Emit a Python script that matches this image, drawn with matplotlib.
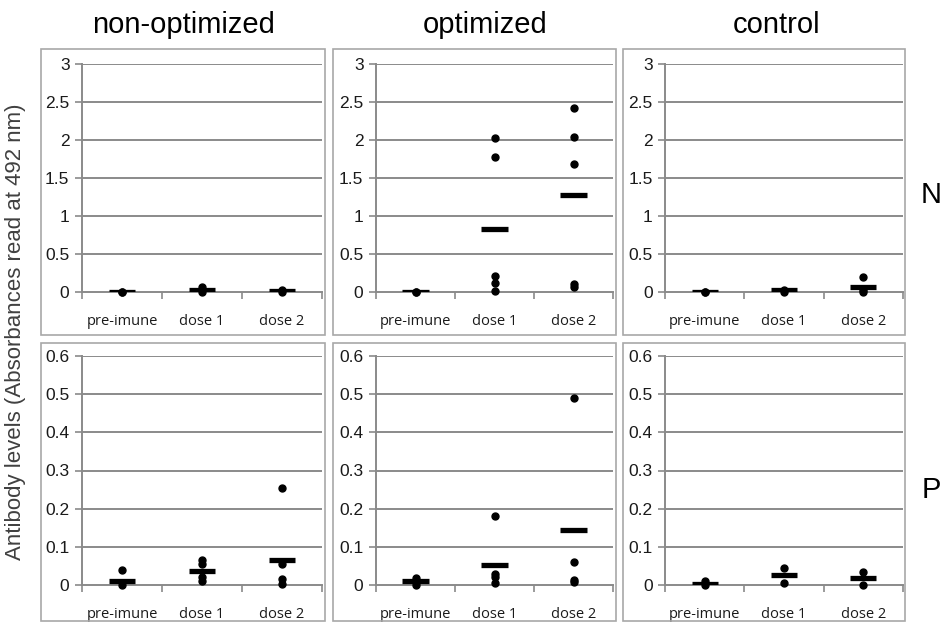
import matplotlib
matplotlib.use('Agg')
import matplotlib.pyplot as plt
from matplotlib.patches import Rectangle

# groups along the x axis and the panels
doses = ['pre-imune', 'dose 1', 'dose 2']
columns = ['non-optimized', 'optimized', 'control']
rows = ['N', 'P']

# individual animals (dots) and group means (bars)
n_points = {
    'non-optimized': [[0.0, 0.0], [0.07, 0.0], [0.02, 0.0]],
    'optimized': [[0.0, 0.0], [2.02, 1.77, 0.21, 0.12, 0.01], [2.42, 2.04, 1.69, 0.1, 0.07]],
    'control': [[0.0, 0.0], [0.03, 0.0], [0.2, 0.03, 0.0]],
}
n_means = {
    'non-optimized': [0.0, 0.03, 0.01],
    'optimized': [0.0, 0.83, 1.27],
    'control': [0.0, 0.02, 0.07],
}
p_points = {
    'non-optimized': [[0.04, 0.0], [0.065, 0.055, 0.02, 0.01], [0.255, 0.055, 0.015, 0.003]],
    'optimized': [[0.018, 0.008, 0.0], [0.18, 0.028, 0.02, 0.005], [0.49, 0.06, 0.012, 0.009]],
    'control': [[0.01, 0.0], [0.045, 0.005], [0.035, 0.0]],
}
p_means = {
    'non-optimized': [0.01, 0.037, 0.065],
    'optimized': [0.01, 0.053, 0.145],
    'control': [0.003, 0.025, 0.018],
}

W, H = 942, 626
fig = plt.figure(figsize=(W / 100, H / 100), dpi=100)

def fx(px):
    return px / W

def fy(py):
    return 1 - py / H

grid_col = '#8a8a8a'
box_col = '#a8a8a8'

# pixel layout: (axes left, axes right) per column, (top, bottom) per row
col_x = [(82, 322), (376, 613), (665, 903)]
box_x = [(41, 325), (333, 616), (623, 905)]
row_y = [(64, 292), (356, 585)]
box_y = [(49, 335), (343, 621)]
ylims = [3, 0.6]
yticks = [[0, 0.5, 1, 1.5, 2, 2.5, 3], [0, 0.1, 0.2, 0.3, 0.4, 0.5, 0.6]]
yticklabels = [['0', '0.5', '1', '1.5', '2', '2.5', '3'],
               ['0', '0.1', '0.2', '0.3', '0.4', '0.5', '0.6']]

for r, (points, means) in enumerate([(n_points, n_means), (p_points, p_means)]):
    for c, col in enumerate(columns):
        bx0, bx1 = box_x[c]
        by0, by1 = box_y[r]
        fig.patches.append(Rectangle((fx(bx0), fy(by1)), fx(bx1 - bx0), (by1 - by0) / H,
                                     transform=fig.transFigure, fill=False,
                                     edgecolor=box_col, lw=1.2))
        x0, x1 = col_x[c]
        y0, y1 = row_y[r]
        ax = fig.add_axes([fx(x0), fy(y1), fx(x1 - x0), (y1 - y0) / H])
        ax.set_xlim(-0.5, 2.5)
        ax.set_ylim(0, ylims[r])
        for i in range(3):
            ax.hlines(means[col][i], i - 0.165, i + 0.165, color='black', lw=3.8, zorder=3)
            ax.plot([i] * len(points[col][i]), points[col][i], 'o', color='black',
                    markersize=5, zorder=4, clip_on=False)
        for t in yticks[r][1:]:
            ax.axhline(t, color=grid_col, lw=1.4, zorder=1)
        ax.set_yticks(yticks[r])
        ax.set_yticklabels(yticklabels[r], fontsize=12.5, family='Liberation Sans', color='#1a1a1a')
        ax.set_xticks([-0.5, 0.5, 1.5, 2.5])
        ax.set_xticklabels([])
        ax.set_xticks([0, 1, 2], minor=True)
        ax.set_xticklabels(doses, minor=True, fontsize=10.5, family='Open Sans', color='#1a1a1a')
        ax.tick_params(axis='x', which='minor', length=0, pad=16)
        ax.tick_params(axis='both', which='major', direction='out', length=5,
                       color=grid_col, width=1.2)
        ax.tick_params(axis='y', pad=4)
        for s in ['top', 'right']:
            ax.spines[s].set_visible(False)
        for s in ['left', 'bottom']:
            ax.spines[s].set_color(grid_col)
            ax.spines[s].set_linewidth(1.4)
        ax.set_facecolor('none')

# column titles
title_x = [184, 485, 777]
for tx, name in zip(title_x, columns):
    fig.text(fx(tx), fy(25), name, ha='center', va='center', fontsize=21,
             family='Liberation Sans', color='black')

# row labels
fig.text(fx(931), fy(195), 'N', ha='center', va='center', fontsize=21, family='Liberation Sans')
fig.text(fx(931), fy(490), 'P', ha='center', va='center', fontsize=21, family='Liberation Sans')

fig.text(fx(16), fy(332), 'Antibody levels (Absorbances read at 492 nm)', rotation=90,
         ha='center', va='center', fontsize=16, family='Liberation Sans', color='#404040')

fig.savefig('out.png', dpi=100)
